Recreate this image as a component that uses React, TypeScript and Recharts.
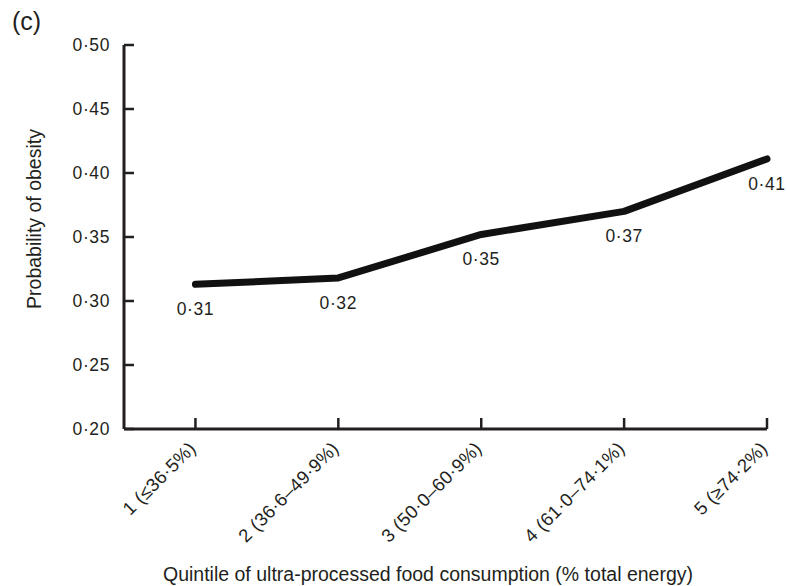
import { Line, LineChart, XAxis, YAxis, LabelList } from 'recharts';

const quintiles = [1, 2, 3, 4, 5];
const quintileLabels = [
  '1 (≤36·5%)',
  '2 (36·6–49·9%)',
  '3 (50·0–60·9%)',
  '4 (61·0–74·1%)',
  '5 (≥74·2%)',
];
const probability = [0.313, 0.318, 0.352, 0.370, 0.411];
const probabilityLabels = ['0·31', '0·32', '0·35', '0·37', '0·41'];
const yTicks = [0.2, 0.25, 0.3, 0.35, 0.4, 0.45, 0.5];

const INK = '#231f20';
const FONT = '"Liberation Sans", Arial, Helvetica, sans-serif';

const data = quintiles.map((q, i) => ({
  q,
  p: probability[i],
  label: probabilityLabels[i],
}));

const fmt = (v: number) => v.toFixed(2).replace('.', '·');

function YTick(props: any) {
  const { x, y, payload } = props;
  return (
    <g>
      <line x1={x} x2={x + 10} y1={y} y2={y} stroke={INK} strokeWidth={2.5} />
      <text
        x={x - 14}
        y={y}
        textAnchor='end'
        dominantBaseline='central'
        fontSize={17.5}
        letterSpacing={0.6}
        fill={INK}
        fontFamily={FONT}
      >
        {fmt(payload.value)}
      </text>
    </g>
  );
}

function XTick(props: any) {
  const { x, y, payload } = props;
  const idx = quintiles.indexOf(payload.value);
  const tx = x - 3;
  const ty = y + 16;
  return (
    <g>
      <line x1={x} x2={x} y1={y} y2={y - 11} stroke={INK} strokeWidth={2.5} />
      <text
        x={tx}
        y={ty}
        textAnchor='end'
        dominantBaseline='central'
        transform={`rotate(-45, ${tx}, ${ty})`}
        fontSize={18.5}
        letterSpacing={0.3}
        fill={INK}
        fontFamily={FONT}
      >
        {quintileLabels[idx]}
      </text>
    </g>
  );
}

function PointLabel(props: any) {
  const { x, y, value } = props;
  return (
    <text
      x={x}
      y={y + 25}
      textAnchor='middle'
      dominantBaseline='central'
      fontSize={17.5}
      letterSpacing={0.6}
      fill={INK}
      fontFamily={FONT}
    >
      {value}
    </text>
  );
}

export default function App() {
  return (
    <div
      style={{
        position: 'absolute',
        left: 0,
        top: 0,
        width: 787,
        height: 586,
        overflow: 'hidden',
        background: '#fff',
        fontFamily: FONT,
        color: INK,
      }}
    >
      <LineChart
        width={787}
        height={586}
        data={data}
        margin={{ top: 45, right: 20, left: 64, bottom: 57 }}
        style={{ overflow: 'visible' }}
      >
        <XAxis
          type='number'
          dataKey='q'
          domain={[0.5, 5]}
          ticks={quintiles}
          interval={0}
          height={100}
          tickSize={0}
          tickMargin={0}
          tickLine={false}
          tick={<XTick />}
          axisLine={{ stroke: INK, strokeWidth: 3 }}
        />
        <YAxis
          type='number'
          domain={[0.2, 0.5]}
          ticks={yTicks}
          interval={0}
          width={60}
          tickSize={0}
          tickMargin={0}
          tickLine={false}
          tick={<YTick />}
          axisLine={{ stroke: INK, strokeWidth: 3 }}
        />
        <Line
          type='linear'
          dataKey='p'
          stroke='#111'
          strokeWidth={7}
          strokeLinecap='round'
          strokeLinejoin='round'
          dot={false}
          activeDot={false}
          isAnimationActive={false}
        >
          <LabelList dataKey='label' content={<PointLabel />} />
        </Line>
      </LineChart>
      <div style={{ position: 'absolute', left: 12, top: 6, fontSize: 25, lineHeight: '30px' }}>(c)</div>
      <div
        style={{
          position: 'absolute',
          left: -76,
          top: 207,
          width: 220,
          height: 24,
          lineHeight: '24px',
          fontSize: 19.5,
          textAlign: 'center',
          transform: 'rotate(-90deg)',
          whiteSpace: 'nowrap',
        }}
      >
        Probability of obesity
      </div>
      <div
        style={{
          position: 'absolute',
          left: 78,
          top: 563,
          width: 700,
          height: 23,
          lineHeight: '23px',
          fontSize: 19.5,
          textAlign: 'center',
          whiteSpace: 'nowrap',
        }}
      >
        Quintile of ultra-processed food consumption (% total energy)
      </div>
    </div>
  );
}
